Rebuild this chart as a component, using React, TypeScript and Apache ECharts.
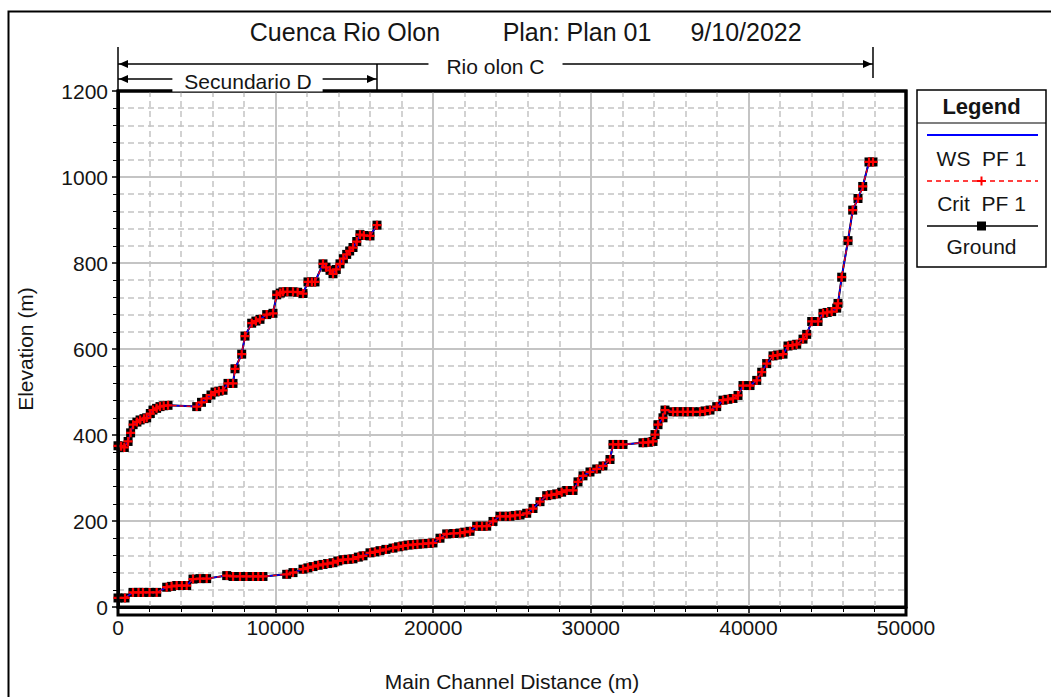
import React, { useEffect, useRef } from 'react';
import * as echarts from 'echarts';

// Rio olon C (main reach) - main channel distance (m) and ground elevation (m)
const mainX = [0, 444, 952, 1300, 1586, 2000, 2456, 3090, 3400, 3725, 4050, 4359, 4759, 5203, 5628, 6897, 7300, 7741, 8150, 8566, 8900, 9200, 10704, 11104, 11739, 12050, 12373, 12700, 13008, 13300, 13642, 13950, 14277, 14600, 14911, 15250, 15546, 15990, 16300, 16624, 17000, 17449, 17800, 18084, 18400, 18718, 19000, 19353, 19700, 19987, 20431, 20856, 21300, 21701, 22000, 22335, 22760, 23100, 23395, 23794, 24239, 24600, 24873, 25200, 25508, 25933, 26332, 26777, 27202, 27500, 27837, 28150, 28471, 28871, 29188, 29505, 29949, 30374, 30774, 31218, 31409, 31750, 32043, 33312, 33650, 33947, 34074, 34264, 34581, 34708, 35216, 35500, 35850, 36150, 36485, 36929, 37250, 37563, 37989, 38388, 38700, 39023, 39340, 39657, 40102, 40527, 40844, 41161, 41561, 41850, 42195, 42513, 42800, 43065, 43464, 43699, 44016, 44416, 44734, 45000, 45285, 45603, 45685, 45920, 46320, 46618, 46954, 47253, 47652, 47906];
const mainY = [21, 21, 34, 34, 34, 34, 34, 46, 48, 50, 50, 50, 65, 66, 66, 73, 71, 71, 71, 71, 71, 71, 76, 80, 88, 91, 94, 97, 99, 101, 103, 107, 110, 111, 112, 116, 119, 126, 128, 131, 134, 137, 140, 142, 144, 145, 146, 147, 148, 149, 160, 170, 171, 172, 174, 176, 188, 188, 188, 199, 211, 211, 211, 213, 214, 218, 229, 245, 259, 261, 263, 267, 271, 271, 291, 305, 314, 321, 328, 343, 378, 378, 378, 382, 383, 385, 401, 424, 440, 458, 454, 454, 454, 454, 454, 454, 456, 458, 466, 481, 483, 485, 492, 515, 515, 527, 546, 566, 584, 586, 588, 607, 609, 611, 623, 634, 664, 664, 683, 685, 687, 695, 706, 767, 852, 923, 950, 978, 1035, 1035];

// Secundario D (tributary reach)
const secX = [0, 200, 400, 640, 800, 960, 1200, 1400, 1650, 1820, 2050, 2220, 2450, 2665, 2900, 3173, 4994, 5300, 5628, 5900, 6155, 6400, 6662, 6980, 7297, 7424, 7849, 8058, 8483, 8750, 9010, 9435, 9835, 10070, 10300, 10470, 10750, 11104, 11400, 11739, 12056, 12300, 12500, 13008, 13200, 13452, 13642, 13850, 14086, 14300, 14511, 14700, 14911, 15150, 15355, 15600, 15990, 16434];
const secY = [375, 374, 371, 385, 405, 424, 430, 435, 438, 440, 450, 458, 462, 466, 468, 469, 466, 476, 485, 493, 500, 502, 504, 520, 520, 554, 588, 630, 660, 665, 669, 680, 683, 726, 730, 733, 733, 733, 732, 729, 756, 756, 756, 798, 790, 783, 775, 785, 798, 810, 820, 828, 836, 850, 866, 864, 863, 888];

const titleParts = ['Cuenca Rio Olon', 'Plan: Plan 01', '9/10/2022'];
const reachNames = ['Rio olon C', 'Secundario D'];
const legendItems = ['WS  PF 1', 'Crit  PF 1', 'Ground'];

const FONT = '"Liberation Sans", Arial, sans-serif';
const TXT = '#151515';
const PLUS = 'path://M3,0H5V3H8V5H5V8H3V5H0V3H3Z';

export default function App() {
  const ref = useRef<HTMLDivElement>(null);
  useEffect(() => {
    const chart = echarts.init(ref.current!, null, { renderer: 'svg' });
    const main = mainX.map((x, i) => [x, mainY[i]]);
    const sec = secX.map((x, i) => [x, secY[i]]);

    const groundStyle = (data: number[][]) => ({
      type: 'line', data, showSymbol: true, symbol: 'rect', symbolSize: 9,
      itemStyle: { color: '#000' }, lineStyle: { color: '#000', width: 2 }, z: 2,
    });
    const wsStyle = (data: number[][]) => ({
      type: 'line', data, showSymbol: false, symbol: 'none',
      lineStyle: { color: '#0000ff', width: 1.5 }, z: 3,
    });
    const critStyle = (data: number[][]) => ({
      type: 'line', data, showSymbol: true, symbol: PLUS, symbolSize: 9,
      itemStyle: { color: '#ff0000' }, lineStyle: { color: '#ff0000', width: 1.2, type: [4, 3] }, z: 4,
    });

    const axisCommon = {
      axisLine: { show: true, onZero: false, lineStyle: { color: '#000', width: 3 } },
      axisTick: { show: true, length: 6, lineStyle: { color: '#000', width: 1.5 } },
      minorTick: { show: true, splitNumber: 5, length: 5, lineStyle: { color: '#000', width: 1 } },
      splitLine: { show: true, lineStyle: { color: '#c4c4c4', width: 2 } },
      minorSplitLine: { show: true, lineStyle: { color: '#c4c4c4', width: 1.5, type: [6, 4] } },
      axisLabel: { fontSize: 21, color: TXT, margin: 10, fontFamily: FONT, formatter: (v: number) => String(v) },
      nameLocation: 'middle',
      nameTextStyle: { fontSize: 21, color: TXT, fontFamily: FONT },
    };

    chart.setOption({
      animation: false,
      backgroundColor: '#fff',
      grid: { left: 118, top: 91, width: 788, height: 524, show: true, borderColor: '#000', borderWidth: 3, backgroundColor: '#fff' },
      xAxis: { type: 'value', min: 0, max: 50000, interval: 10000, name: 'Main Channel Distance (m)', nameGap: 64, ...axisCommon },
      yAxis: { type: 'value', min: 0, max: 1200, interval: 200, name: 'Elevation (m)', nameGap: 82, ...axisCommon },
      series: [groundStyle(main), groundStyle(sec), wsStyle(main), wsStyle(sec), critStyle(main), critStyle(sec)],
    });

    const px = (x: number) => (chart.convertToPixel({ gridIndex: 0 }, [x, 0]) as number[])[0];
    const x0 = px(0);
    const xs = px(secX[secX.length - 1]);
    const xm = px(mainX[mainX.length - 1]);
    const xEnd = px(50000);
    const yR = 64;
    const yS = 79;
    const ln = (x1: number, y1: number, x2: number, y2: number, w = 1.5) => ({
      type: 'line', shape: { x1, y1, x2, y2 }, style: { stroke: '#000', lineWidth: w }, z: 100,
    });
    const tri = (pts: number[][]) => ({ type: 'polygon', shape: { points: pts }, style: { fill: '#000' }, z: 101 });
    const txt = (text: string, x: number, y: number, size = 21, weight = 'normal', bg?: string, pad?: number[]) => ({
      type: 'text', z: 102,
      style: {
        text, x, y, fill: TXT, font: `${weight} ${size}px ${FONT}`, textAlign: 'center', textVerticalAlign: 'middle',
        ...(bg ? { backgroundColor: bg, padding: pad } : {}),
      },
    });

    const LX = 917, LY = 90, LW = 129, LH = 177;
    const lc = LX + LW / 2;

    chart.setOption({
      graphic: [
        { type: 'rect', shape: { x: 8.5, y: 11.5, width: 1100, height: 800 }, style: { fill: 'none', stroke: '#000', lineWidth: 2 }, z: 90 },
        { type: 'rect', shape: { x: x0, y: 91, width: xEnd - x0, height: 524 }, style: { fill: 'none', stroke: '#000', lineWidth: 3 }, z: 95 },
        txt(titleParts[0], 345, 32, 25),
        txt(titleParts[1], 577, 32, 25),
        txt(titleParts[2], 746, 32, 25),
        // Reach annotations
        ln(x0, 47, x0, 91),
        ln(xm, 47, xm, 78),
        ln(xs, yR, xs, 91),
        ln(x0, yR, xm, yR),
        ln(x0, yS, xs, yS),
        tri([[x0 + 1, yR], [x0 + 10, yR - 4], [x0 + 10, yR + 4]]),
        tri([[xm - 1, yR], [xm - 10, yR - 4], [xm - 10, yR + 4]]),
        tri([[x0 + 1, yS], [x0 + 10, yS - 4], [x0 + 10, yS + 4]]),
        tri([[xs - 1, yS], [xs - 10, yS - 4], [xs - 10, yS + 4]]),
        txt(reachNames[0], (x0 + xm) / 2, yR + 2, 21, 'normal', '#fff', [0, 18, 0, 18]),
        txt(reachNames[1], (x0 + xs) / 2, yS + 2, 21, 'normal', '#fff', [0, 11, 0, 12]),
        // Legend box
        { type: 'rect', shape: { x: LX, y: LY, width: LW, height: LH }, style: { fill: '#fff', stroke: '#000', lineWidth: 1.5 }, z: 100 },
        ln(LX, 123, LX + LW, 123, 1.2),
        txt('Legend', lc, 106, 22, 'bold'),
        { type: 'line', shape: { x1: LX + 10, y1: 135, x2: LX + LW - 8, y2: 135 }, style: { stroke: '#0000ff', lineWidth: 2 }, z: 101 },
        txt(legendItems[0], lc, 158, 21),
        { type: 'line', shape: { x1: LX + 10, y1: 181, x2: LX + LW - 8, y2: 181 }, style: { stroke: '#ff0000', lineWidth: 1.5, lineDash: [5, 4] }, z: 101 },
        { type: 'rect', shape: { x: lc - 4.5, y: 180, width: 9, height: 2 }, style: { fill: '#ff0000' }, z: 102 },
        { type: 'rect', shape: { x: lc - 1, y: 176.5, width: 2, height: 9 }, style: { fill: '#ff0000' }, z: 102 },
        txt(legendItems[1], lc, 203, 21),
        ln(LX + 10, 226, LX + LW - 8, 226, 1.5),
        { type: 'rect', shape: { x: lc - 4.5, y: 221.5, width: 9, height: 9 }, style: { fill: '#000' }, z: 102 },
        txt(legendItems[2], lc, 246, 21),
      ],
    });

    return () => chart.dispose();
  }, []);
  return <div ref={ref} style={{ position: 'fixed', left: 0, top: 0, width: 1051, height: 697, background: '#fff' }} />;
}
